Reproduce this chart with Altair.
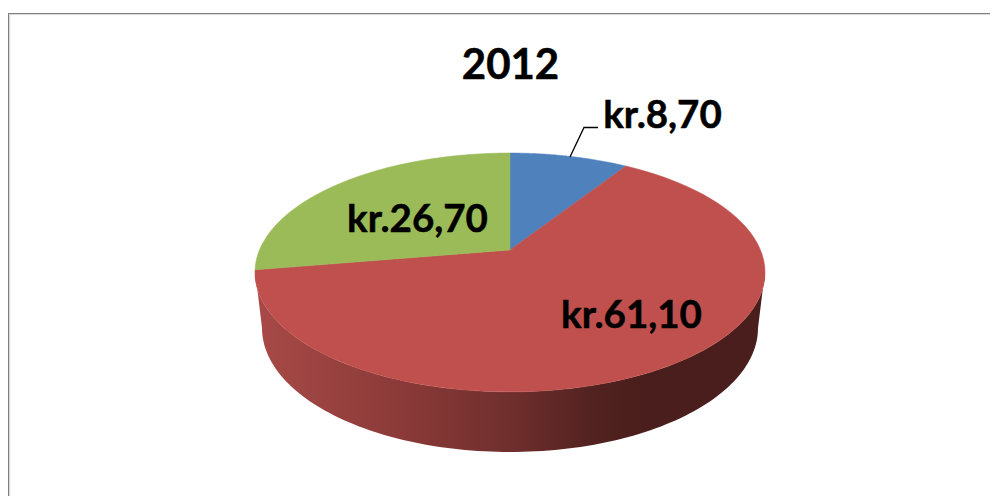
import math
import altair as alt
import pandas as pd

# --- chart values ---
title_text = "2012"
categories = ["blue", "red", "green"]
values = [8.70, 61.10, 26.70]
labels = ["kr.8,70", "kr.61,10", "kr.26,70"]
colors = ["#4F81BD", "#C0504D", "#9BBB59"]

# --- 3D pie geometry (perspective view of a disc) ---
APEX_X, APEX_Y = 510.0, 250.0
Q, P, A = 0.188, -68.2, 250.5
BOTTOM_CX, BOTTOM_CY, BOTTOM_RX, BOTTOM_RY = 510.0, 328.0, 248.0, 124.0


def rim(theta_deg):
    t = math.radians(theta_deg)
    u, v = math.sin(t), math.cos(t)
    d = 1 + Q * v
    return APEX_X + A * u / d, (APEX_Y + P * v) / d


def frange(a, b, n):
    return [a + (b - a) * i / n for i in range(n + 1)]


total = sum(values)
rows = []
start = 0.0
for name, val in zip(categories, values):
    end = start + 360.0 * val / total
    pts = [(APEX_X, APEX_Y)] + [rim(t) for t in frange(start, end, 80)] + [(APEX_X, APEX_Y)]
    rows += [{"slice": name, "i": i, "x": p[0], "y": p[1]} for i, p in enumerate(pts)]
    start = end
faces = pd.DataFrame(rows)

# side wall: top rim of the red slice's front part, then the lower rim back
red_end = 360.0 * (values[0] + values[1]) / total
side_pts = [rim(t) for t in frange(100.0, red_end, 80)]
side_pts += [
    (BOTTOM_CX + BOTTOM_RX * math.sin(math.radians(t)),
     BOTTOM_CY - BOTTOM_RY * math.cos(math.radians(t)))
    for t in frange(270.0, 90.0, 120)
]
side = pd.DataFrame([{"i": i, "x": p[0], "y": p[1]} for i, p in enumerate(side_pts)])

x_scale = alt.Scale(domain=[8, 990], range=[0, 982], nice=False, zero=False)
y_scale = alt.Scale(domain=[496, 8], range=[488, 0], nice=False, zero=False)
X = alt.X("x:Q", scale=x_scale, axis=None)
Y = alt.Y("y:Q", scale=y_scale, axis=None)


def pos(xs, ys):
    return pd.DataFrame({"x": xs, "y": ys})


wall_fill = alt.Gradient(
    gradient="linear", x1=0, x2=1, y1=0, y2=0,
    stops=[
        alt.GradientStop(color="#A84A47", offset=0.0),
        alt.GradientStop(color="#8A3A38", offset=0.29),
        alt.GradientStop(color="#6F2F2D", offset=0.50),
        alt.GradientStop(color="#4F211F", offset=0.68),
        alt.GradientStop(color="#4A1E1C", offset=0.77),
        alt.GradientStop(color="#4A1E1C", offset=1.0),
    ],
)

layers = []

# chart-area frame
for xs, ys, col, w in [
    ([8.6, 8.6], [13.5, 496], "#808080", 1.2),
    ([9.7, 9.7], [14.5, 496], "#D4D4D4", 1),
    ([8, 990], [13.5, 13.5], "#808080", 1.2),
    ([9.5, 990], [14.6, 14.6], "#D9D9D9", 1),
]:
    layers.append(alt.Chart(pos(xs, ys)).mark_line(color=col, strokeWidth=w).encode(x=X, y=Y))

layers.append(
    alt.Chart(side).mark_line(fill=wall_fill, strokeWidth=0, stroke="transparent").encode(x=X, y=Y, order="i:Q")
)
for name, col in zip(categories, colors):
    layers.append(
        alt.Chart(faces[faces["slice"] == name])
        .mark_line(fill=col, stroke=col, strokeWidth=0.5)
        .encode(x=X, y=Y, order="i:Q")
    )

# leader line for the small slice
layers.append(
    alt.Chart(pd.DataFrame({"i": [0, 1, 2], "x": [570, 584, 598], "y": [157, 127.5, 127.5]}))
    .mark_line(color="#000000", strokeWidth=1.3)
    .encode(x=X, y=Y, order="i:Q")
)

label_df = pd.DataFrame({"t": labels, "x": [662.5, 631.5, 417.5], "y": [128, 328, 232]})
layers.append(
    alt.Chart(label_df)
    .mark_text(font="Lato", fontWeight="bold", fontSize=38.5, align="center", baseline="alphabetic",
               color="#000000", stroke="#000000", strokeWidth=0.5)
    .encode(x=X, y=Y, text="t:N")
)
layers.append(
    alt.Chart(pd.DataFrame({"t": [title_text], "x": [510.5], "y": [79]}))
    .mark_text(font="Lato", fontWeight="bold", fontSize=42, align="center", baseline="alphabetic",
               color="#000000", stroke="#000000", strokeWidth=0.5)
    .encode(x=X, y=Y, text="t:N")
)

chart = (
    alt.layer(*layers)
    .properties(width=982, height=488, padding=0, background="#FFFFFF",
                autosize=alt.AutoSizeParams(type="none"))
    .configure_view(stroke=None)
)
chart.save("out.html", embed_options={"renderer": "svg", "actions": False})
